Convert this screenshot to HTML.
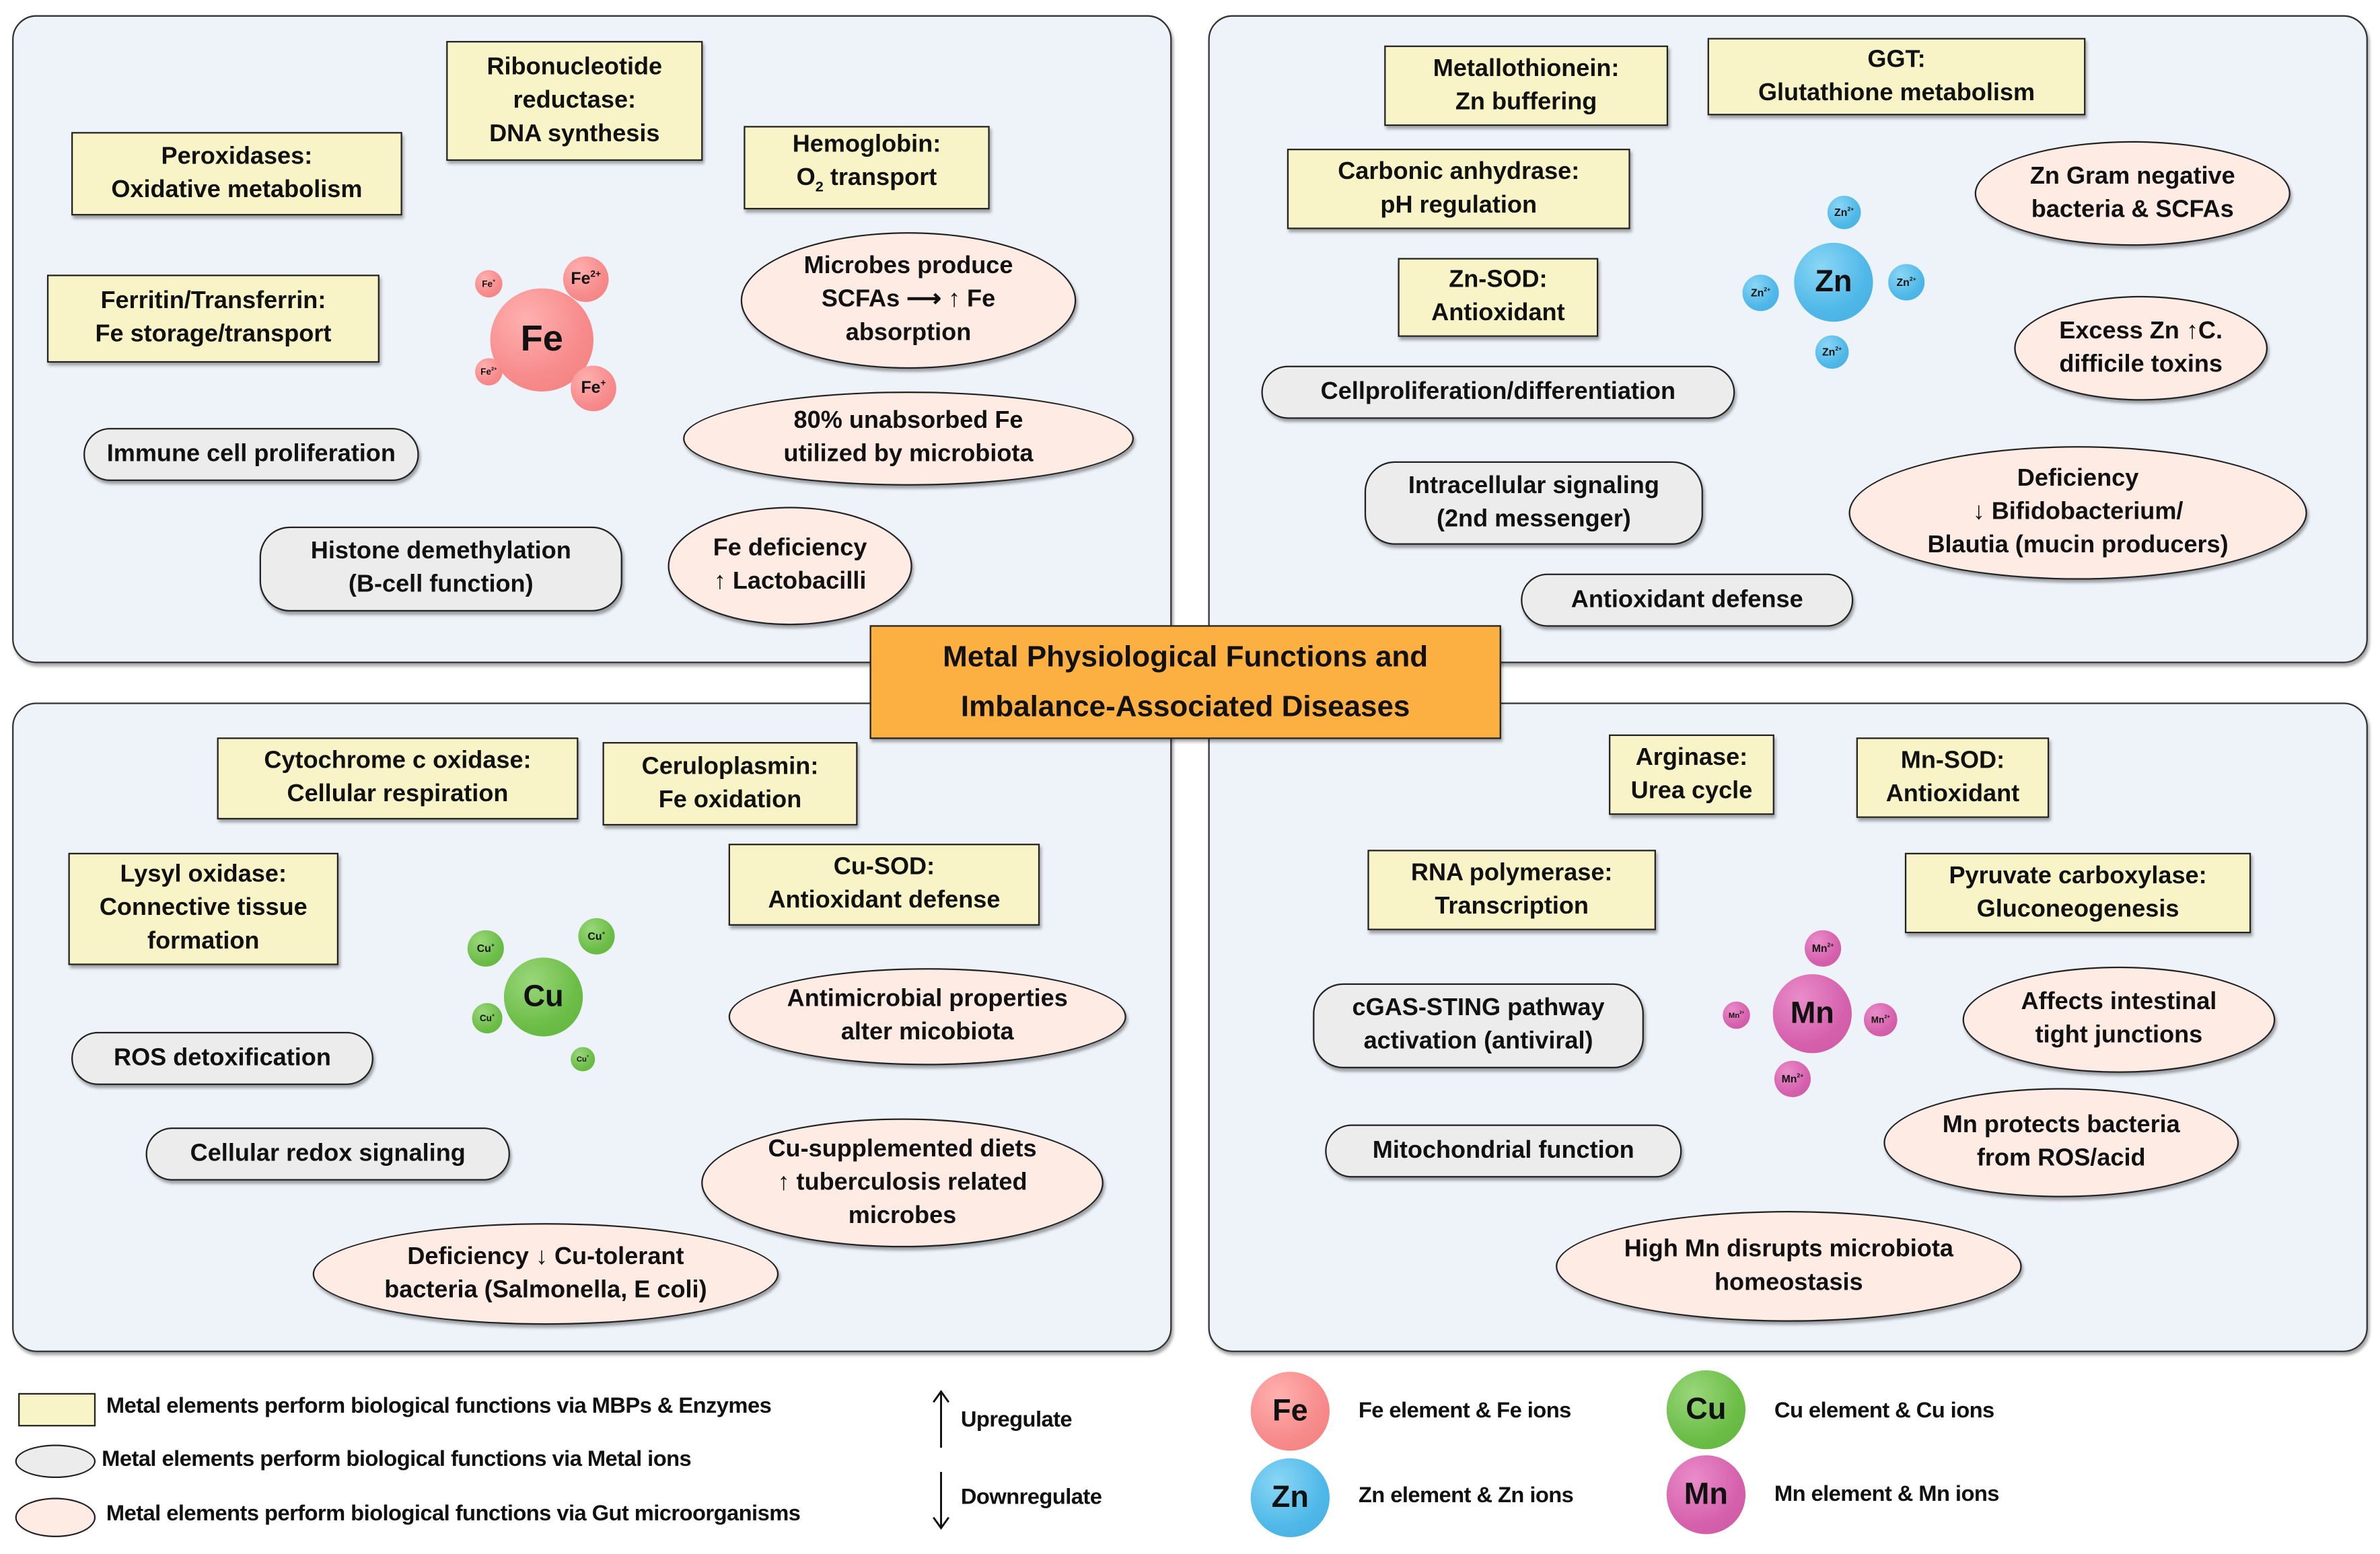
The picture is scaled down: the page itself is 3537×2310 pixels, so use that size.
<!DOCTYPE html>
<html><head><meta charset="utf-8"><style>
body{margin:0;width:3537px;height:2309px;overflow:hidden;background:#fff}
#w{position:absolute;left:0;top:0;width:1568px;height:1024px;transform:scale(2.2557);transform-origin:0 0;font-family:"Liberation Sans Narrow","Liberation Sans",sans-serif;font-weight:bold;color:#111}
.pn{position:absolute;background:#eef3f9;border:1.5px solid #333;border-radius:16px;box-shadow:1px 2px 2px rgba(0,0,0,.35)}
.b{position:absolute;display:flex;align-items:center;justify-content:center;text-align:center;border:1.3px solid #222;font-size:16px;line-height:22px;box-sizing:border-box;box-shadow:1px 2px 2px rgba(0,0,0,.35)}
.r{background:#f8f4c7}
.p{background:#ececec;border-radius:20px}
.e{background:#fdebe4;border-radius:50%}
.c{position:absolute;border-radius:50%;display:flex;align-items:center;justify-content:center;font-family:"Liberation Sans",sans-serif;font-weight:bold;white-space:nowrap}
.fe{background:radial-gradient(circle at 35% 30%,#ffb0b0,#f78a8a 60%,#f28080)}
.zn{background:radial-gradient(circle at 35% 30%,#8ad6f5,#4fb8e8 60%,#45aee0)}
.cu{background:radial-gradient(circle at 35% 30%,#9ad77a,#6cbd48 60%,#60b43c)}
.mn{background:radial-gradient(circle at 35% 30%,#ea8cc9,#d561ad 60%,#cc58a4)}
.t{position:absolute;font-size:14.5px;white-space:nowrap;letter-spacing:-0.25px}
sup{font-size:55%}
</style></head><body><div id="w">
<div class="pn" style="left:8px;top:10px;width:762px;height:425px"></div>
<div class="pn" style="left:796px;top:10px;width:762px;height:425px"></div>
<div class="pn" style="left:8px;top:463px;width:762px;height:426px"></div>
<div class="pn" style="left:796px;top:463px;width:762px;height:426px"></div>

<!-- TL -->
<div class="b r" style="left:294px;top:27px;width:169px;height:79px"><span>Ribonucleotide<br>reductase:<br>DNA synthesis</span></div>
<div class="b r" style="left:47px;top:87px;width:218px;height:55px"><span>Peroxidases:<br>Oxidative metabolism</span></div>
<div class="b r" style="left:490px;top:83px;width:162px;height:55px"><span>Hemoglobin:<br>O<sub style="font-size:60%">2</sub> transport</span></div>
<div class="b r" style="left:31px;top:181px;width:219px;height:58px"><span>Ferritin/Transferrin:<br>Fe storage/transport</span></div>
<div class="b e" style="left:488px;top:153px;width:221px;height:90px"><span>Microbes produce<br>SCFAs ⟶ ↑ Fe<br>absorption</span></div>
<div class="b e" style="left:450px;top:258px;width:297px;height:62px"><span>80% unabsorbed Fe<br>utilized by microbiota</span></div>
<div class="b p" style="left:55px;top:282px;width:221px;height:35px">Immune cell proliferation</div>
<div class="b p" style="left:171px;top:347px;width:239px;height:56px"><span>Histone demethylation<br>(B-cell function)</span></div>
<div class="b e" style="left:440px;top:334px;width:161px;height:78px"><span>Fe deficiency<br>↑ Lactobacilli</span></div>
<div class="c fe" style="left:323px;top:190px;width:68px;height:68px;font-size:24px">Fe</div>
<div class="c fe" style="left:313px;top:178px;width:18px;height:18px;font-size:6px"><span>Fe<sup>+</sup></span></div>
<div class="c fe" style="left:371px;top:169px;width:30px;height:30px;font-size:11px"><span>Fe<sup>2+</sup></span></div>
<div class="c fe" style="left:313px;top:236px;width:18px;height:18px;font-size:6px"><span>Fe<sup>2+</sup></span></div>
<div class="c fe" style="left:376px;top:241px;width:30px;height:30px;font-size:11px"><span>Fe<sup>+</sup></span></div>

<!-- TR -->
<div class="b r" style="left:912px;top:30px;width:187px;height:53px"><span>Metallothionein:<br>Zn buffering</span></div>
<div class="b r" style="left:1125px;top:25px;width:249px;height:51px"><span>GGT:<br>Glutathione metabolism</span></div>
<div class="b r" style="left:848px;top:98px;width:226px;height:53px"><span>Carbonic anhydrase:<br>pH regulation</span></div>
<div class="b e" style="left:1301px;top:93px;width:208px;height:69px"><span>Zn Gram negative<br>bacteria &amp; SCFAs</span></div>
<div class="b r" style="left:921px;top:170px;width:132px;height:52px"><span>Zn-SOD:<br>Antioxidant</span></div>
<div class="c zn" style="left:1182px;top:160px;width:52px;height:52px;font-size:20px">Zn</div>
<div class="c zn" style="left:1204px;top:129px;width:22px;height:22px;font-size:7px"><span>Zn<sup>2+</sup></span></div>
<div class="c zn" style="left:1148px;top:181px;width:24px;height:24px;font-size:7px"><span>Zn<sup>2+</sup></span></div>
<div class="c zn" style="left:1244px;top:174px;width:24px;height:24px;font-size:7px"><span>Zn<sup>2+</sup></span></div>
<div class="c zn" style="left:1196px;top:221px;width:22px;height:22px;font-size:7px"><span>Zn<sup>2+</sup></span></div>
<div class="b e" style="left:1327px;top:195px;width:167px;height:69px"><span>Excess Zn ↑C.<br>difficile toxins</span></div>
<div class="b p" style="left:831px;top:241px;width:312px;height:35px">Cellproliferation/differentiation</div>
<div class="b p" style="left:899px;top:304px;width:223px;height:55px"><span>Intracellular signaling<br>(2nd messenger)</span></div>
<div class="b e" style="left:1218px;top:294px;width:302px;height:88px"><span>Deficiency<br>↓ Bifidobacterium/<br>Blautia (mucin producers)</span></div>
<div class="b p" style="left:1002px;top:378px;width:219px;height:35px">Antioxidant defense</div>

<!-- Center -->
<div class="b" style="left:573px;top:412px;width:416px;height:75px;background:#fbb041;font-size:19.5px;line-height:33px"><span>Metal Physiological Functions and<br>Imbalance-Associated Diseases</span></div>

<!-- BL -->
<div class="b r" style="left:143px;top:486px;width:238px;height:54px"><span>Cytochrome c oxidase:<br>Cellular respiration</span></div>
<div class="b r" style="left:397px;top:489px;width:168px;height:55px"><span>Ceruloplasmin:<br>Fe oxidation</span></div>
<div class="b r" style="left:480px;top:556px;width:205px;height:54px"><span>Cu-SOD:<br>Antioxidant defense</span></div>
<div class="b r" style="left:45px;top:562px;width:178px;height:74px"><span>Lysyl oxidase:<br>Connective tissue<br>formation</span></div>
<div class="c cu" style="left:332px;top:631px;width:52px;height:52px;font-size:20px">Cu</div>
<div class="c cu" style="left:308px;top:613px;width:24px;height:24px;font-size:7px"><span>Cu<sup>+</sup></span></div>
<div class="c cu" style="left:381px;top:605px;width:24px;height:24px;font-size:7px"><span>Cu<sup>+</sup></span></div>
<div class="c cu" style="left:311px;top:661px;width:20px;height:20px;font-size:6px"><span>Cu<sup>+</sup></span></div>
<div class="c cu" style="left:376px;top:690px;width:16px;height:16px;font-size:5px"><span>Cu<sup>+</sup></span></div>
<div class="b e" style="left:480px;top:638px;width:262px;height:64px"><span>Antimicrobial properties<br>alter micobiota</span></div>
<div class="b p" style="left:47px;top:680px;width:199px;height:35px">ROS detoxification</div>
<div class="b p" style="left:96px;top:743px;width:240px;height:35px">Cellular redox signaling</div>
<div class="b e" style="left:462px;top:737px;width:265px;height:85px"><span>Cu-supplemented diets<br>↑ tuberculosis related<br>microbes</span></div>
<div class="b e" style="left:206px;top:806px;width:307px;height:67px"><span>Deficiency ↓ Cu-tolerant<br>bacteria (Salmonella, E coli)</span></div>

<!-- BR -->
<div class="b r" style="left:1060px;top:484px;width:109px;height:53px"><span>Arginase:<br>Urea cycle</span></div>
<div class="b r" style="left:1223px;top:486px;width:127px;height:53px"><span>Mn-SOD:<br>Antioxidant</span></div>
<div class="b r" style="left:901px;top:560px;width:190px;height:53px"><span>RNA polymerase:<br>Transcription</span></div>
<div class="b r" style="left:1255px;top:562px;width:228px;height:53px"><span>Pyruvate carboxylase:<br>Gluconeogenesis</span></div>
<div class="c mn" style="left:1168px;top:642px;width:52px;height:52px;font-size:20px">Mn</div>
<div class="c mn" style="left:1189px;top:613px;width:24px;height:24px;font-size:7px"><span>Mn<sup>2+</sup></span></div>
<div class="c mn" style="left:1135px;top:660px;width:18px;height:18px;font-size:5px"><span>Mn<sup>2+</sup></span></div>
<div class="c mn" style="left:1228px;top:661px;width:22px;height:22px;font-size:6px"><span>Mn<sup>2+</sup></span></div>
<div class="c mn" style="left:1169px;top:699px;width:24px;height:24px;font-size:7px"><span>Mn<sup>2+</sup></span></div>
<div class="b p" style="left:865px;top:648px;width:218px;height:56px"><span>cGAS-STING pathway<br>activation (antiviral)</span></div>
<div class="b e" style="left:1293px;top:637px;width:206px;height:70px"><span>Affects intestinal<br>tight junctions</span></div>
<div class="b p" style="left:873px;top:741px;width:235px;height:35px">Mitochondrial function</div>
<div class="b e" style="left:1241px;top:717px;width:234px;height:72px"><span>Mn protects bacteria<br>from ROS/acid</span></div>
<div class="b e" style="left:1025px;top:798px;width:307px;height:73px"><span>High Mn disrupts microbiota<br>homeostasis</span></div>

<!-- Legend -->
<div class="b r" style="left:12px;top:918px;width:51px;height:22px;box-shadow:none"></div>
<div class="b p" style="left:10px;top:952px;width:53px;height:22px;background:#ececec;box-shadow:none;border-radius:50%"></div>
<div class="b e" style="left:10px;top:987px;width:53px;height:26px;box-shadow:none"></div>
<div class="t" style="left:70px;top:919px">Metal elements perform biological functions via MBPs &amp; Enzymes</div>
<div class="t" style="left:67px;top:954px">Metal elements perform biological functions via Metal ions</div>
<div class="t" style="left:70px;top:990px">Metal elements perform biological functions via Gut microorganisms</div>
<svg style="position:absolute;left:610px;top:914px" width="20" height="94"><path d="M10 4V40M5 10L10 3L15 10M10 56V92M5 86L10 93L15 86" stroke="#111" stroke-width="1.3" fill="none"/></svg>
<div class="t" style="left:633px;top:928px">Upregulate</div>
<div class="t" style="left:633px;top:979px">Downregulate</div>
<div class="c fe" style="left:824px;top:904px;width:52px;height:52px;font-size:20px">Fe</div>
<div class="c zn" style="left:824px;top:961px;width:52px;height:52px;font-size:20px">Zn</div>
<div class="c cu" style="left:1098px;top:903px;width:52px;height:52px;font-size:20px">Cu</div>
<div class="c mn" style="left:1098px;top:959px;width:52px;height:52px;font-size:20px">Mn</div>
<div class="t" style="left:895px;top:922px">Fe element &amp; Fe ions</div>
<div class="t" style="left:895px;top:978px">Zn element &amp; Zn ions</div>
<div class="t" style="left:1169px;top:922px">Cu element &amp; Cu ions</div>
<div class="t" style="left:1169px;top:977px">Mn element &amp; Mn ions</div>
</div></body></html>
